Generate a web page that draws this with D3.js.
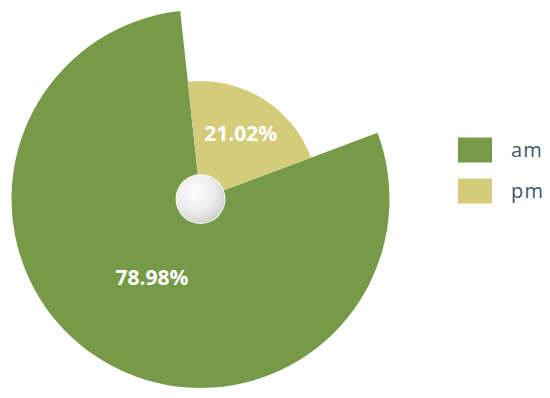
<!DOCTYPE html>
<html>
<head>
<meta charset="utf-8">
<script src="https://cdn.jsdelivr.net/npm/d3@7/dist/d3.min.js"></script>
<style>
  html, body { margin: 0; padding: 0; background: #ffffff; }
  svg { display: block; }
</style>
</head>
<body>
<svg id="chart" width="550" height="398"></svg>
<script>
// ---- data ----
const categories = ["am", "pm"];
const values = [78.98, 21.02];
const labels = ["78.98%", "21.02%"];

// ---- layout / style ----
const colors = ["#769a47", "#d4cc7a"];
const outerRadii = [189, 118];
const labelRadiusFactor = [0.49, 0.65];
const cx = 200.5, cy = 199;
const startDeg = 69.5;

const svg = d3.select("#chart");
const defs = svg.append("defs");
const grad = defs.append("radialGradient").attr("id", "hole")
  .attr("cx", "38%").attr("cy", "35%").attr("r", "70%");
grad.append("stop").attr("offset", "0%").attr("stop-color", "#ffffff");
grad.append("stop").attr("offset", "60%").attr("stop-color", "#ececec");
grad.append("stop").attr("offset", "100%").attr("stop-color", "#cfcfcf");

const pie = d3.pie().sort(null).value(d => d)
  .startAngle(startDeg * Math.PI / 180)
  .endAngle(startDeg * Math.PI / 180 + 2 * Math.PI);
const arcs = pie(values);

const g = svg.append("g").attr("transform", `translate(${cx},${cy})`);

g.selectAll("path.slice").data(arcs).enter().append("path")
  .attr("class", "slice")
  .attr("d", (d, i) => d3.arc().innerRadius(0).outerRadius(outerRadii[i])(d))
  .attr("fill", (d, i) => colors[i]);

// center hole
g.append("circle").attr("r", 25).attr("fill", "#ffffff").attr("opacity", 0.9);
g.append("circle").attr("r", 24).attr("fill", "url(#hole)");

// labels
g.selectAll("text.lbl").data(arcs).enter().append("text")
  .attr("class", "lbl")
  .attr("transform", (d, i) => {
    const r = outerRadii[i] * labelRadiusFactor[i];
    const c = d3.arc().innerRadius(r).outerRadius(r).centroid(d);
    return `translate(${c[0]},${c[1]})`;
  })
  .attr("text-anchor", "middle")
  .attr("dy", "0.36em")
  .attr("font-family", "'Open Sans', Lato, sans-serif")
  .attr("font-weight", "bold")
  .attr("font-size", 21)
  .attr("fill", "#ffffff")
  .text((d, i) => labels[i]);

// legend
const legendY = d3.scalePoint().domain(categories).range([137.5, 178.5]);
const leg = svg.append("g").selectAll("g").data(categories).enter().append("g")
  .attr("transform", d => `translate(458,${legendY(d)})`);
leg.append("rect").attr("width", 34).attr("height", 25)
  .attr("fill", (d, i) => colors[i]);
leg.append("text")
  .attr("x", 53).attr("y", 19.5)
  .attr("font-family", "'Open Sans', Lato, sans-serif")
  .attr("font-size", 20)
  .attr("letter-spacing", 1.2)
  .attr("fill", "#44546a")
  .text(d => d);
</script>
</body>
</html>
